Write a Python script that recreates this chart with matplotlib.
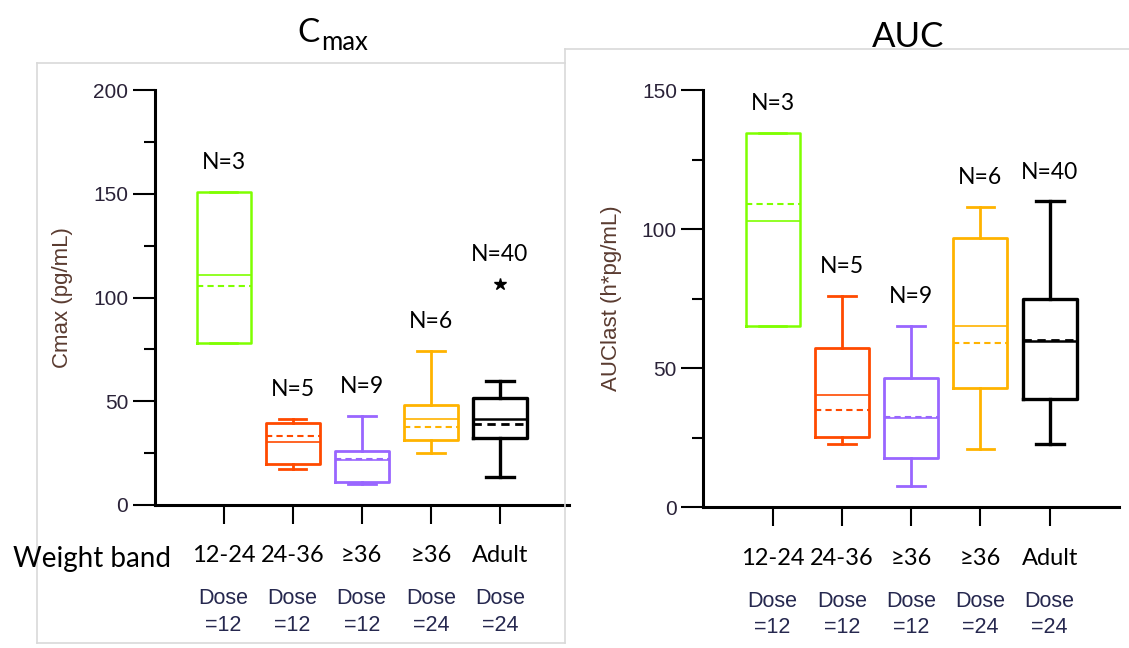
import numpy as np
import matplotlib.pyplot as plt
from matplotlib.lines import Line2D
from matplotlib.transforms import blended_transform_factory

plt.rcParams['font.family'] = ['Lato', 'DejaVu Sans']

# Groups along the x axis
groups = ['12-24', '24-36', '≥36', '≥36', 'Adult']
doses = [12, 12, 12, 24, 24]
n_subjects = [3, 5, 9, 6, 40]

# Cmax (pg/mL) box summaries
cmax_low = [78, 17.3, 10.0, 25.2, 13.3]
cmax_q1 = [78, 19.8, 10.9, 31.3, 32.4]
cmax_med = [111, 30.2, 21.7, 41.3, 41.3]
cmax_mean = [105.5, 33.4, 22.0, 37.4, 38.9]
cmax_q3 = [151, 39.4, 25.9, 48.2, 51.4]
cmax_high = [151, 41.4, 42.9, 74.2, 59.8]
cmax_outliers = [[], [], [], [], [106.5]]

# AUClast (h*pg/mL) box summaries
auc_low = [65, 22.8, 7.8, 21.0, 22.8]
auc_q1 = [65, 25.4, 17.8, 42.8, 38.8]
auc_med = [103, 40.4, 32.0, 65.2, 59.9]
auc_mean = [109, 35.0, 32.3, 59.0, 60.2]
auc_q3 = [134.5, 57.4, 46.6, 96.8, 74.8]
auc_high = [134.5, 76.0, 65.2, 108.1, 110.0]
auc_outliers = [[], [], [], [], []]

box_colors = ['#7FFF00', '#FF4A00', '#9966FF', '#FFB300', '#000000']
box_lw = [1.8, 2.0, 2.0, 2.0, 2.4]
text_navy = '#26284f'
tick_color = '#2a2238'
label_color = '#5a3b30'

W, H = 1129, 648
fig = plt.figure(figsize=(W / 100, H / 100), dpi=100)


def fx(x):
    return x / W


def fy(y):
    return 1 - y / H


def draw_panel(rect, low, q1, med, mean, q3, high, outliers, ymax, ylabel):
    ax = fig.add_axes(rect)
    stats = []
    for i in range(len(groups)):
        stats.append(dict(whislo=low[i], q1=q1[i], med=med[i], mean=mean[i],
                          q3=q3[i], whishi=high[i], fliers=outliers[i]))
    pos = np.arange(1, len(groups) + 1)
    bp = ax.bxp(stats, positions=pos, widths=0.78, capwidths=0.4,
                showmeans=True, meanline=True,
                flierprops=dict(marker='*', markersize=9,
                                markerfacecolor='black', markeredgecolor='black'))
    for i, c in enumerate(box_colors):
        bp['boxes'][i].set(color=c, linewidth=box_lw[i])
        for art in bp['whiskers'][2 * i:2 * i + 2] + bp['caps'][2 * i:2 * i + 2]:
            art.set(color=c, linewidth=box_lw[i])
        bp['medians'][i].set(color=c, linewidth=1.2 if i < 4 else 1.8)
        bp['means'][i].set(color=c, linewidth=1.5 if i < 4 else 2.0,
                           linestyle=(0, (3, 2)))

    # sample size above each group
    for i, n in enumerate(n_subjects):
        top = max([high[i]] + list(outliers[i]))
        ax.annotate(f'N={n}', xy=(pos[i], top), xytext=(0, 21),
                    textcoords='offset points', ha='center', va='center',
                    fontsize=16.5)

    ax.set_xlim(0, 6)
    ax.set_ylim(0, ymax)
    ax.set_xticks(pos, groups, fontsize=17)
    ax.set_yticks(np.arange(0, ymax + 1, 50))
    ax.set_yticks(np.arange(25, ymax, 50), minor=True)
    ax.tick_params(axis='x', length=14, width=1.5, pad=15)
    ax.tick_params(axis='y', which='major', length=16, width=1.5, pad=3,
                   labelsize=15, labelcolor=tick_color,
                   labelfontfamily='Liberation Sans')
    ax.tick_params(axis='y', which='minor', length=8, width=1.5)
    for s in ['top', 'right']:
        ax.spines[s].set_visible(False)
    for s in ['left', 'bottom']:
        ax.spines[s].set_linewidth(2.2)
    ax.set_ylabel(ylabel, fontsize=16, family='Liberation Sans',
                  color=label_color, va='center')
    ax.yaxis.set_label_coords(-0.222, 0.5)

    # dose row under the weight bands
    trans = blended_transform_factory(ax.transData, ax.transAxes)
    for i, d in enumerate(doses):
        ax.text(pos[i], -0.200, f'Dose\n={d}', transform=trans, ha='center',
                va='top', fontsize=15.5, family='Liberation Sans',
                color=text_navy, linespacing=1.35)
    return ax


ax1 = draw_panel([fx(154.5), fy(505), fx(569 - 154.5), (505 - 90) / H],
                 cmax_low, cmax_q1, cmax_med, cmax_mean, cmax_q3, cmax_high,
                 cmax_outliers, 200, 'Cmax (pg/mL)')
ax2 = draw_panel([fx(703.3), fy(507.3), fx(1119 - 703.3), (507.3 - 90) / H],
                 auc_low, auc_q1, auc_med, auc_mean, auc_q3, auc_high,
                 auc_outliers, 150, 'AUClast (h*pg/mL)')

# panel titles
fig.text(fx(320), fy(42), 'C', ha='right', va='baseline', fontsize=24)
fig.text(fx(321), fy(50), 'max', ha='left', va='baseline', fontsize=18.5)
fig.text(fx(908), fy(46.7), 'AUC', ha='center', va='baseline', fontsize=25)
fig.text(fx(92), fy(559), 'Weight band', ha='center', va='center', fontsize=20)

# slide frames
frame = dict(color='#d9d9d9', linewidth=1.2, transform=fig.transFigure)
for xs, ys in [([37.4, 565], [62.7, 62.7]), ([37.4, 565], [643.3, 643.3]),
               ([37.4, 37.4], [62.7, 643.3]), ([565, 565], [49, 643.3]),
               ([565, 1129], [49, 49])]:
    fig.add_artist(Line2D([fx(x) for x in xs], [fy(y) for y in ys], **frame))

fig.savefig('out.png', dpi=100)
